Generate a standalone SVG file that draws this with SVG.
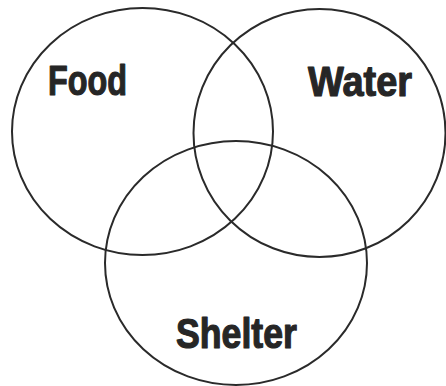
<svg xmlns="http://www.w3.org/2000/svg" width="446" height="386" viewBox="0 0 446 386">
<style>
.c{fill:none;stroke:#2a2a2a;stroke-width:2}
.t{font-family:"Liberation Sans",Arial,sans-serif;font-weight:bold;font-size:42px;fill:#262626;stroke:#262626;stroke-width:1.2;stroke-linejoin:round}
</style>
<rect width="446" height="386" fill="#fff"/>
<g id="food"><ellipse class="c" cx="142.5" cy="131.5" rx="130.5" ry="123.5"/><text class="t" x="48" y="95" textLength="79" lengthAdjust="spacingAndGlyphs">Food</text></g>
<g id="water"><ellipse class="c" cx="319.5" cy="133" rx="126" ry="124"/><text class="t" x="308" y="96" textLength="104" lengthAdjust="spacingAndGlyphs">Water</text></g>
<g id="shelter"><ellipse class="c" cx="236" cy="263" rx="131" ry="122"/><text class="t" x="176" y="348" textLength="121" lengthAdjust="spacingAndGlyphs">Shelter</text></g>
<g id="connectors"/>
</svg>
